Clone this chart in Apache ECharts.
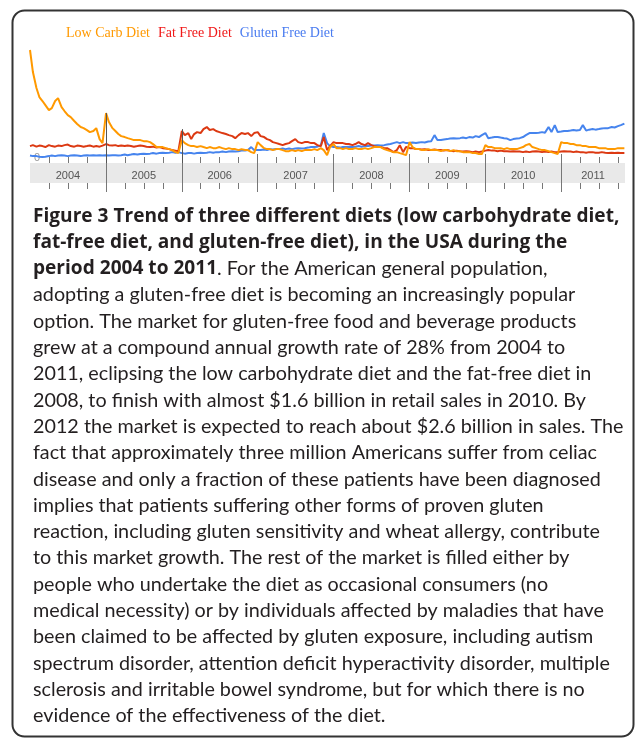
<!DOCTYPE html>
<html><head><meta charset="utf-8">
<script src="https://cdn.jsdelivr.net/npm/echarts@6/dist/echarts.min.js"></script>
<style>html,body{margin:0;padding:0;background:#fff}#c{width:636px;height:740px}</style>
</head><body><div id="c"></div>
<script>
// ---------- data ----------
const seriesNames = ['Low Carb Diet', 'Fat Free Diet', 'Gluten Free Diet'];
const lineColors = ['#ff9900', '#dc3912', '#4684ee'];
const legendColors = ['#ff9900', '#f01818', '#4a7cf0'];

// search interest, half-month samples from 2004-01-01 to 2011-11-01
const lowCarb = [
  100, 79.5, 64.7, 56.3, 52.6, 48.8, 44.2, 46, 52.6, 55.3, 47, 43.3, 39.5, 37.7, 34, 31.2, 28.4, 27.4, 25.6, 23.7, 24.7, 27.4, 17.2, 13.5,
  41.4, 33, 27.4, 24.7, 21.9, 20, 19.1, 18.1, 17.2, 16.3, 16.3, 16.3, 15.3, 15.3, 14.4, 12.6, 9.8, 9.8, 9.8, 8.8, 7.9, 7, 5.1, 4.2,
  16.3, 13.5, 11.6, 10.7, 10.7, 9.8, 10.7, 9.8, 8.8, 9.8, 8.8, 8.8, 9.8, 8.8, 7.9, 8.8, 7.9, 7.9, 7, 7.9, 7, 7, 5.1, 4.2,
  14.4, 11.6, 8.8, 7.9, 7.9, 7, 7.9, 7.9, 7, 6, 6, 7, 6, 7, 6, 7, 7, 7, 7.9, 7, 8.8, 7, 2.3, 9.8,
  12.6, 8.8, 8.8, 7.9, 8.8, 7.9, 7.9, 8.8, 7.9, 7.9, 8.8, 7.9, 8.8, 9.8, 9.8, 9.8, 7.9, 7, 6, 5.1, 5.1, 4.2, 3.3, 2.3,
  14.4, 9.8, 7.9, 7.9, 7, 7, 7.9, 7, 7, 7, 6, 7, 7, 6, 7, 6, 6, 5.1, 5.1, 5.1, 4.2, 4.2, 3.3, 3.3,
  11.6, 9.8, 9.8, 8.8, 8.8, 8.8, 7.9, 8.8, 7.9, 7.9, 7.9, 8.8, 9.8, 11.6, 12.6, 9.8, 8.8, 7.9, 7, 7, 6, 5.1, 4.2, 3.3,
  14.4, 13.5, 13.5, 12.6, 12.6, 11.6, 11.6, 10.7, 10.7, 9.8, 9.8, 9.8, 8.8, 8.8, 8.8, 7.9, 7.9, 7.9, 8.8, 8.8, 8.8
];
const fatFree = [
  10.7, 11.6, 10.2, 11.2, 10.7, 9.8, 11.6, 10.7, 10.2, 11.2, 10.7, 11.6, 12.1, 10.7, 10.2, 11.2, 10.7, 10.2, 10.7, 11.2, 10.2, 10.7, 10.2, 11.2,
  12.6, 11.6, 11.2, 11.6, 10.7, 11.2, 10.7, 11.2, 10.7, 10.2, 10.7, 11.2, 10.7, 10.2, 9.8, 10.2, 9.3, 9.8, 8.8, 8.4, 7.9, 7, 6.5, 6,
  24.7, 20.9, 22.8, 17.2, 21.9, 23.7, 22.8, 26.5, 28.4, 25.6, 26.5, 24.7, 23.7, 22.8, 21.9, 20.9, 20, 18.1, 20.9, 22.8, 21.9, 22.8, 20, 22.8,
  23.7, 20, 19.1, 17.2, 16.3, 14.4, 13.5, 12.6, 11.6, 12.6, 13.5, 15.3, 17.2, 14.4, 13.5, 14.4, 14.4, 13.5, 13.5, 11.6, 10.7, 19.1, 7, 10.7,
  14.4, 13.5, 13.5, 13.5, 12.6, 12.6, 11.6, 12.6, 14.4, 12.6, 11.6, 13.5, 11.6, 10.7, 9.8, 9.8, 8.8, 8.8, 7, 5.1, 7, 11.6, 5.1, 9.8,
  8.8, 8.8, 7.9, 7.9, 7.5, 7.9, 7, 7, 7.5, 7, 7, 6.5, 7, 6.5, 6, 6.5, 6, 5.6, 6, 5.6, 5.1, 5.6, 5.1, 5.6,
  6.5, 7, 6.5, 6.5, 6, 6.5, 6, 6, 5.6, 6, 5.6, 5.6, 5.1, 5.6, 5.1, 5.6, 6, 5.6, 5.1, 5.6, 5.1, 5.6, 5.1, 5.1,
  5.6, 6, 5.6, 5.6, 5.1, 5.6, 5.1, 5.1, 4.6, 5.1, 5.1, 4.6, 4.6, 5.1, 4.6, 4.2, 4.6, 4.2, 4.6, 4.2, 4.2
];
const glutenFree = [
  1.9, 1.4, 1.4, 0.9, 0.5, 0.9, 1.4, 1.9, 1.4, 1.9, 2.3, 1.9, 1.4, 1.9, 2.3, 1.9, 1.4, 1.9, 2.3, 1.9, 2.3, 1.9, 2.3, 1.9,
  2.3, 1.9, 2.3, 2.3, 1.9, 2.3, 2.8, 2.3, 2.8, 3.3, 2.8, 3.3, 3.7, 3.3, 3.7, 4.2, 3.7, 4.2, 4.6, 4.2, 4.6, 5.1, 4.6, 5.1,
  4.2, 3.7, 4.2, 4.2, 3.7, 4.2, 4.6, 4.2, 4.6, 5.1, 4.6, 5.1, 5.1, 5.6, 5.1, 5.6, 6, 5.6, 6, 6.5, 6.5, 7, 9.8, 7,
  7, 7, 7.5, 7, 7.9, 7.5, 7.9, 7.9, 8.4, 7.9, 8.4, 7.9, 8.4, 8.8, 8.4, 8.8, 9.3, 9.8, 9.8, 10.2, 11.2, 22.8, 13.5, 10.7,
  9.8, 9.8, 9.3, 9.8, 9.8, 10.2, 9.8, 10.2, 10.7, 10.2, 10.7, 10.7, 11.2, 11.2, 11.6, 11.2, 11.6, 12.1, 12.6, 13.5, 14.4, 13.5, 14.4, 13.5,
  13.5, 14, 13.5, 14, 14.4, 14, 14.9, 15.3, 20.9, 16.3, 16.3, 16.8, 17.2, 17.7, 18.1, 17.7, 18.1, 18.6, 18.1, 19.1, 18.6, 20, 19.1, 20.9,
  22.8, 18.1, 18.6, 19.1, 19.1, 18.6, 18.1, 17.7, 16.3, 17.2, 17.7, 18.1, 19.1, 20.9, 22.8, 22.8, 22.8, 23.2, 23.7, 23.2, 28.4, 23.7, 30.2, 23.7,
  24.2, 24.7, 24.7, 25.1, 25.6, 25.1, 25.6, 30.2, 25.1, 26, 26.5, 26, 26.5, 27, 27.4, 27.4, 28.4, 28, 29.3, 30.2, 31.6
];

// news-marker lines (date, top value)
const markerDates = ['2005-01-01', '2006-01-01'];
const markerTops = [41.4, 26.5];

// axis band: year labels and their positions (decimal years)
const yearLabels = ['2004', '2005', '2006', '2007', '2008', '2009', '2010', '2011'];
const yearLabelPos = [2004.5, 2005.5, 2006.5, 2007.5, 2008.5, 2009.5, 2010.5, 2011.42];
const yearTicks = [2005, 2006, 2007, 2008, 2009, 2010, 2011];
const quarterTicks = [];
for (let y = 2004; y <= 2011; y++) for (const q of [0.25, 0.5, 0.75]) quarterTicks.push(y + q);

const captionBold = [
  'Figure 3 Trend of three different diets (low carbohydrate diet,',
  'fat-free diet, and gluten-free diet), in the USA during the',
  'period 2004 to 2011'
];
const captionRest = [
  '. For the American general population,',
  'adopting a gluten-free diet is becoming an increasingly popular',
  'option. The market for gluten-free food and beverage products',
  'grew at a compound annual growth rate of 28% from 2004 to',
  '2011, eclipsing the low carbohydrate diet and the fat-free diet in',
  '2008, to finish with almost $1.6 billion in retail sales in 2010. By',
  '2012 the market is expected to reach about $2.6 billion in sales. The',
  'fact that approximately three million Americans suffer from celiac',
  'disease and only a fraction of these patients have been diagnosed',
  'implies that patients suffering other forms of proven gluten',
  'reaction, including gluten sensitivity and wheat allergy, contribute',
  'to this market growth. The rest of the market is filled either by',
  'people who undertake the diet as occasional consumers (no',
  'medical necessity) or by individuals affected by maladies that have',
  'been claimed to be affected by gluten exposure, including autism',
  'spectrum disorder, attention deficit hyperactivity disorder, multiple',
  'sclerosis and irritable bowel syndrome, but for which there is no',
  'evidence of the effectiveness of the diet.'
];

// ---------- build ----------
const dates = [];
for (let y = 2004; y <= 2011; y++) {
  for (let m = 1; m <= 12; m++) {
    for (const d of ['01', '15']) dates.push(y + '-' + String(m).padStart(2, '0') + '-' + d);
  }
}
const pairs = arr => arr.map((v, i) => [dates[i], v]);

const captionText =
  '{b|' + captionBold[0] + '}\n' +
  '{b|' + captionBold[1] + '}\n' +
  '{b|' + captionBold[2] + '}' + captionRest[0] + '\n' +
  captionRest.slice(1).join('\n');

const capLH = 26.3;

const tickBase = {
  type: 'value', gridIndex: 1, min: 2004, max: 2011.841,
  axisLine: { show: false, onZero: false }, splitLine: { show: false }
};

const option = {
  animation: false,
  backgroundColor: '#ffffff',
  legend: {
    left: 61, top: 26, padding: 0, icon: 'none', itemWidth: 0, itemHeight: 14, itemGap: 3,
    selectedMode: false,
    textStyle: { fontFamily: 'Liberation Serif', fontSize: 14 },
    data: seriesNames.map((n, i) => ({ name: n, textStyle: { color: legendColors[i] } }))
  },
  title: {
    text: captionText, left: 33, top: 203, padding: 0,
    textStyle: {
      fontFamily: 'Lato', fontSize: 19.75, fontWeight: 'normal', color: '#231f20', lineHeight: capLH,
      rich: { b: { fontFamily: 'Open Sans', fontSize: 19.1, fontWeight: 'bold', color: '#231f20', lineHeight: capLH } }
    }
  },
  grid: [
    { left: 30, right: 11, top: 50, bottom: 577 },
    { left: 30, right: 11, top: 163, height: 20, show: true, backgroundColor: '#e9e9e9', borderWidth: 0 }
  ],
  xAxis: [
    { type: 'time', gridIndex: 0, min: '2004-01-01', max: '2011-11-04', show: false },
    Object.assign({}, tickBase, { position: 'bottom',
      axisTick: { show: true, inside: true, length: 29, customValues: yearTicks, lineStyle: { color: '#777', width: 1 } },
      axisLabel: { show: false, customValues: yearTicks } }),
    Object.assign({}, tickBase, { position: 'bottom',
      axisTick: { show: true, inside: false, length: 9, customValues: yearTicks, lineStyle: { color: '#777', width: 1 } },
      axisLabel: { show: false, customValues: yearTicks } }),
    Object.assign({}, tickBase, { position: 'top',
      axisTick: { show: true, inside: false, length: 6, customValues: quarterTicks, lineStyle: { color: '#777', width: 1 } },
      axisLabel: { show: false, customValues: quarterTicks } }),
    Object.assign({}, tickBase, { position: 'bottom',
      axisTick: { show: true, inside: false, length: 6, customValues: quarterTicks, lineStyle: { color: '#777', width: 1 } },
      axisLabel: { show: false, customValues: quarterTicks } }),
    Object.assign({}, tickBase, { position: 'bottom',
      axisTick: { show: false },
      axisLabel: { show: true, inside: true, margin: 2, customValues: yearLabelPos,
        formatter: v => yearLabels[Math.floor(v) - 2004],
        fontFamily: 'Liberation Sans', fontSize: 11, color: '#555' } })
  ],
  yAxis: [
    { type: 'value', gridIndex: 0, min: -5, max: 100, interval: 5,
      splitLine: { show: false }, axisLine: { show: false }, axisTick: { show: false },
      axisLabel: { inside: true, margin: 4, formatter: v => (v === 0 ? '0' : ''), color: '#999', fontSize: 11, fontFamily: 'Liberation Sans' } },
    { type: 'value', gridIndex: 1, min: 0, max: 1, show: false }
  ],
  series: [
    { name: seriesNames[0], type: 'line', xAxisIndex: 0, yAxisIndex: 0, data: pairs(lowCarb),
      symbol: 'none', clip: false, z: 4, lineStyle: { width: 2, color: lineColors[0] }, itemStyle: { color: lineColors[0] },
      markLine: { silent: true, symbol: ['none', 'none'], label: { show: false },
        lineStyle: { color: '#555', width: 1, type: 'solid' },
        data: markerDates.map((d, i) => [{ coord: [d, markerTops[i]] }, { coord: [d, -5] }]) } },
    { name: seriesNames[1], type: 'line', xAxisIndex: 0, yAxisIndex: 0, data: pairs(fatFree),
      symbol: 'none', clip: false, z: 3, lineStyle: { width: 2, color: lineColors[1] }, itemStyle: { color: lineColors[1] } },
    { name: seriesNames[2], type: 'line', xAxisIndex: 0, yAxisIndex: 0, data: pairs(glutenFree),
      symbol: 'none', clip: false, z: 2, lineStyle: { width: 2, color: lineColors[2] }, itemStyle: { color: lineColors[2] } }
  ],
  graphic: [
    { type: 'rect', silent: true, z: -1,
      shape: { x: 12.5, y: 10.5, width: 621, height: 726, r: 12 },
      style: { fill: 'none', stroke: '#333', lineWidth: 2 } }
  ]
};

const chart = echarts.init(document.getElementById('c'), null, { renderer: 'canvas' });
chart.setOption(option);
</script>
</body></html>
